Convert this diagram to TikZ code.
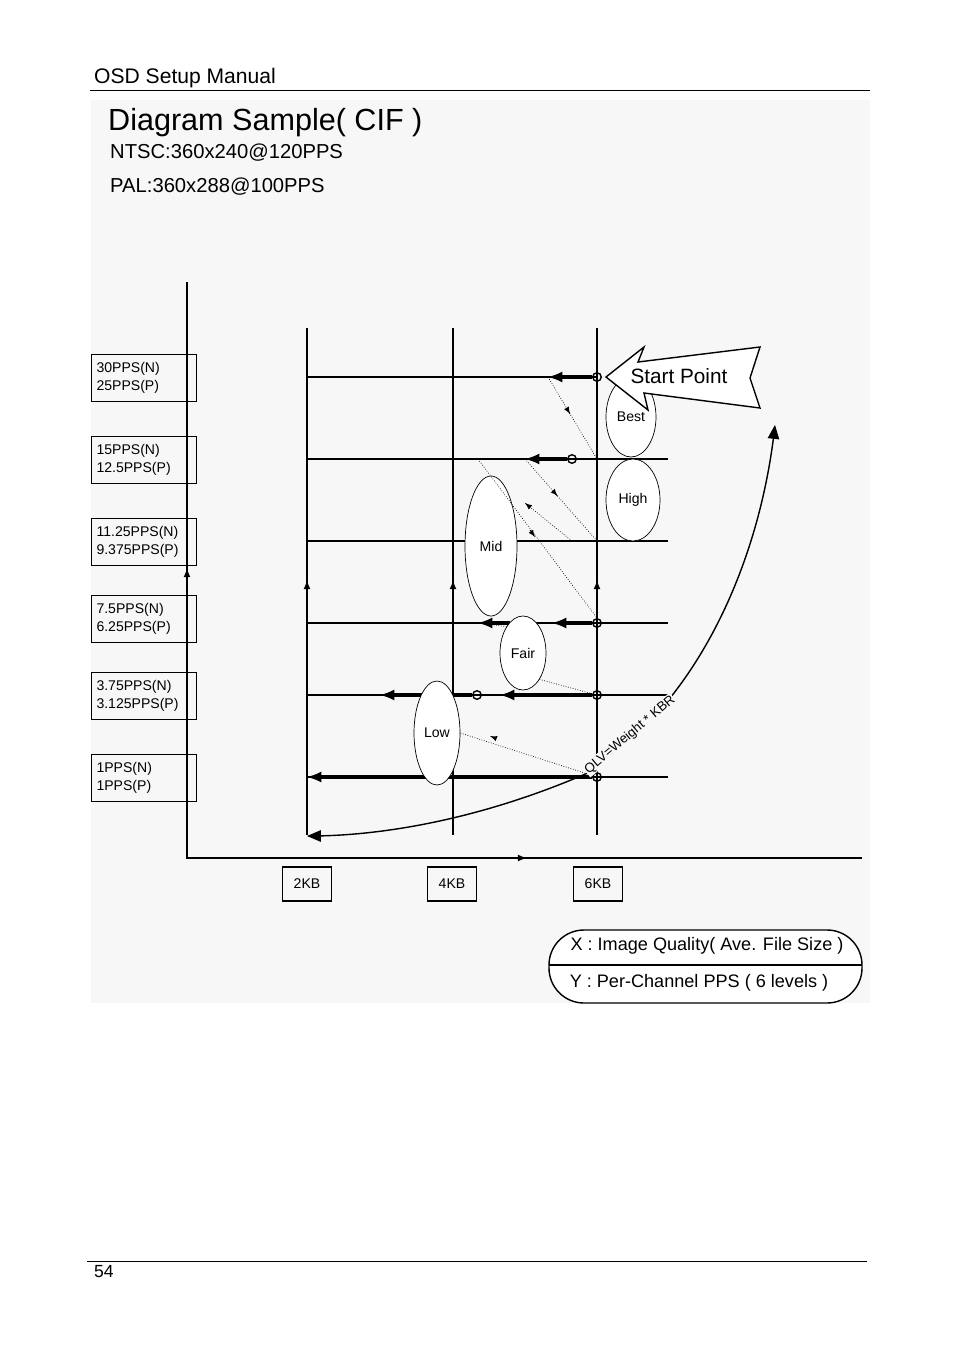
\documentclass[tikz,border=0pt]{standalone}
\usepackage{fontspec}
\setmainfont{Liberation Sans}
\usetikzlibrary{arrows,positioning,shapes}

\begin{document}
\begin{tikzpicture}[x=0.02cm,y=-0.02cm,
            ppsbox/.style={draw,thick,rectangle,minimum width=2.1cm,minimum height=0.94cm,align=left,font=\fontsize{8}{10.5}\selectfont,inner sep=2pt,text width=1.9cm},
            kbbox/.style={draw,thick,rectangle,minimum width=0.98cm,minimum height=0.68cm,font=\fontsize{8}{10}\selectfont},
            lvl/.style={draw,fill=white,ellipse,inner sep=0pt,font=\fontsize{8}{10}\selectfont},
            pt/.style={draw,thick,circle,inner sep=0pt,minimum size=0.17cm},
            grid/.style={draw,thick},
            movearrow/.style={draw,line width=1.8pt,-latex},
            hop/.style={draw,densely dotted,thin},
            every path/.style={>=latex}
          ]
          \useasboundingbox (0,0) rectangle (954,1350);
          \fill[black!3] (91,100) rectangle (870,1003);

          %header and footer
          \node[anchor=west,font=\fontsize{12}{14}\selectfont] (head) at (88,78) {OSD Setup Manual};
          \draw (90,90) -- (870,90);
          \draw (87,1261) -- (867,1261);
          \node[anchor=west,font=\fontsize{10}{12}\selectfont] (page) at (88,1272) {54};

          %title
          \node[anchor=west,font=\fontsize{17.4}{21}\selectfont] (title) at (102,123) {Diagram Sample( CIF )};
          \node[anchor=west,font=\fontsize{11.5}{14}\selectfont] (ntsc) at (104,153) {NTSC:360x240@120PPS};
          \node[anchor=west,font=\fontsize{11.5}{14}\selectfont] (pal) at (104,187) {PAL:360x288@100PPS};

          %axes
          \coordinate (ytop) at (187,282);
          \coordinate (orig) at (187,858);
          \coordinate (xend) at (862,858);
          \draw[thick] (ytop) -- (orig) -- (xend);
          \draw[thick,->] (187,600) -- (187,568);
          \draw[thick,->] (500,858) -- (527,858);

          %levels
          \node[ppsbox] (p30) at (144,378) {30PPS(N)\\25PPS(P)};
          \node[ppsbox] (p15) at (144,460) {15PPS(N)\\12.5PPS(P)};
          \node[ppsbox] (p11) at (144,542) {11.25PPS(N)\\9.375PPS(P)};
          \node[ppsbox] (p7) at (144,619) {7.5PPS(N)\\6.25PPS(P)};
          \node[ppsbox] (p3) at (144,696) {3.75PPS(N)\\3.125PPS(P)};
          \node[ppsbox] (p1) at (144,778) {1PPS(N)\\1PPS(P)};

          %sizes
          \node[kbbox] (k2) at (307,884) {2KB};
          \node[kbbox] (k4) at (452,884) {4KB};
          \node[kbbox] (k6) at (598,884) {6KB};

          %grid
          \foreach \x/\n in {307/a,453/b,597/c} {
            \coordinate (\n t) at (\x,328);
            \coordinate (\n b) at (\x,835);
            \draw[grid] (\n t) -- (\n b);
            \draw[thick,->] (\x,600) -- (\x,580);
          }
          \draw[grid] (307,377) -- (597,377);
          \foreach \y in {459,541,623,695,777}
            \draw[grid] (307,\y) -- (668,\y);

          %points
          \node[pt] (s30) at (597,377) {};
          \node[pt] (s15) at (572,459) {};
          \node[pt] (s7) at (597,623) {};
          \node[pt] (s3) at (597,695) {};
          \node[pt] (m3) at (477,695) {};
          \node[pt] (s1) at (597,777) {};
          \coordinate (e30) at (548,377);
          \coordinate (e15) at (525,459);
          \coordinate (e7) at (552,623);
          \coordinate (f7) at (478,623);
          \coordinate (e3) at (500,695);
          \coordinate (f3) at (380,695);
          \coordinate (e1) at (307,777);
          \draw[movearrow] (s30) -- (e30);
          \draw[movearrow] (s15) -- (e15);
          \draw[movearrow] (s7) -- (e7);
          \draw[movearrow] (510,623) -- (f7);
          \draw[movearrow] (s3) -- (e3);
          \draw[movearrow] (m3) -- (f3);
          \draw[movearrow] (s1) -- (e1);

          %quality levels
          \node[lvl,minimum width=1cm,minimum height=1.6cm] (best) at (631,417) {Best};
          \node[lvl,minimum width=1.08cm,minimum height=1.64cm] (high) at (633,500) {High};
          \node[lvl,minimum width=1.04cm,minimum height=2.8cm] (mid) at (491,546) {Mid};
          \node[lvl,minimum width=0.92cm,minimum height=1.48cm] (fair) at (523,653) {Fair};
          \node[lvl,minimum width=0.92cm,minimum height=2.08cm] (low) at (437,733) {Low};

          %dotted hops
          \draw[hop] (e30) -- (597,459) node[pos=0.45,sloped,allow upside down]{\tikz\draw[-latex,solid] (0,0) -- (0.1,0);};
          \draw[hop] (e15) -- (597,541) node[pos=0.45,sloped,allow upside down]{\tikz\draw[-latex,solid] (0,0) -- (0.1,0);};
          \draw[hop] (572,541) -- (525,503);
          \draw[-latex] (530,507) -- (525,503);
          \draw[hop] (478,459) -- (597,618);
          \draw[-latex] (530,530) -- (535,537);
          \draw[hop] (fair.south east) -- (s3);
          \draw[hop] (fair.north west) -- (f7);
          \draw[hop] (s1) -- (low.east);
          \draw[-latex] (495,738) -- (490,736);
          \draw[hop] (low.north west) -- (f3);

          %curve
          \coordinate (ctop) at (775,425);
          \coordinate (cbot) at (307,836);
          \draw[thick,-triangle 45] (590,772) .. controls (700,700) and (760,560) .. (ctop);
          \draw[thick,-triangle 45] (590,772) .. controls (480,820) and (380,836) .. (cbot);
          \node[rotate=40,font=\fontsize{7.5}{9}\selectfont,fill=black!3,inner sep=0.5pt] (qlv) at (630,735) {QLV=Weight * KBR};

          %start point
          \draw[thick,fill=white] (606,377) -- (644,347) -- (638,362) -- (760,347) -- (750,378)
            -- (760,408) -- (644,393) -- (648,410) -- cycle;
          \node[font=\fontsize{11.8}{14}\selectfont] (start) at (679,376) {Start Point};

          %legend
          \draw[thick,fill=white,rounded corners=0.7cm] (549,930) rectangle (862,1003);
          \draw[thick] (549,965) -- (862,965);
          \node[font=\fontsize{10.3}{12}\selectfont] (xlab) at (707,946) {X : Image Quality( Ave. File Size )};
          \node[font=\fontsize{10.3}{12}\selectfont] (ylab) at (699,983) {Y : Per-Channel PPS ( 6 levels )};
      \end{tikzpicture}
\end{document}
